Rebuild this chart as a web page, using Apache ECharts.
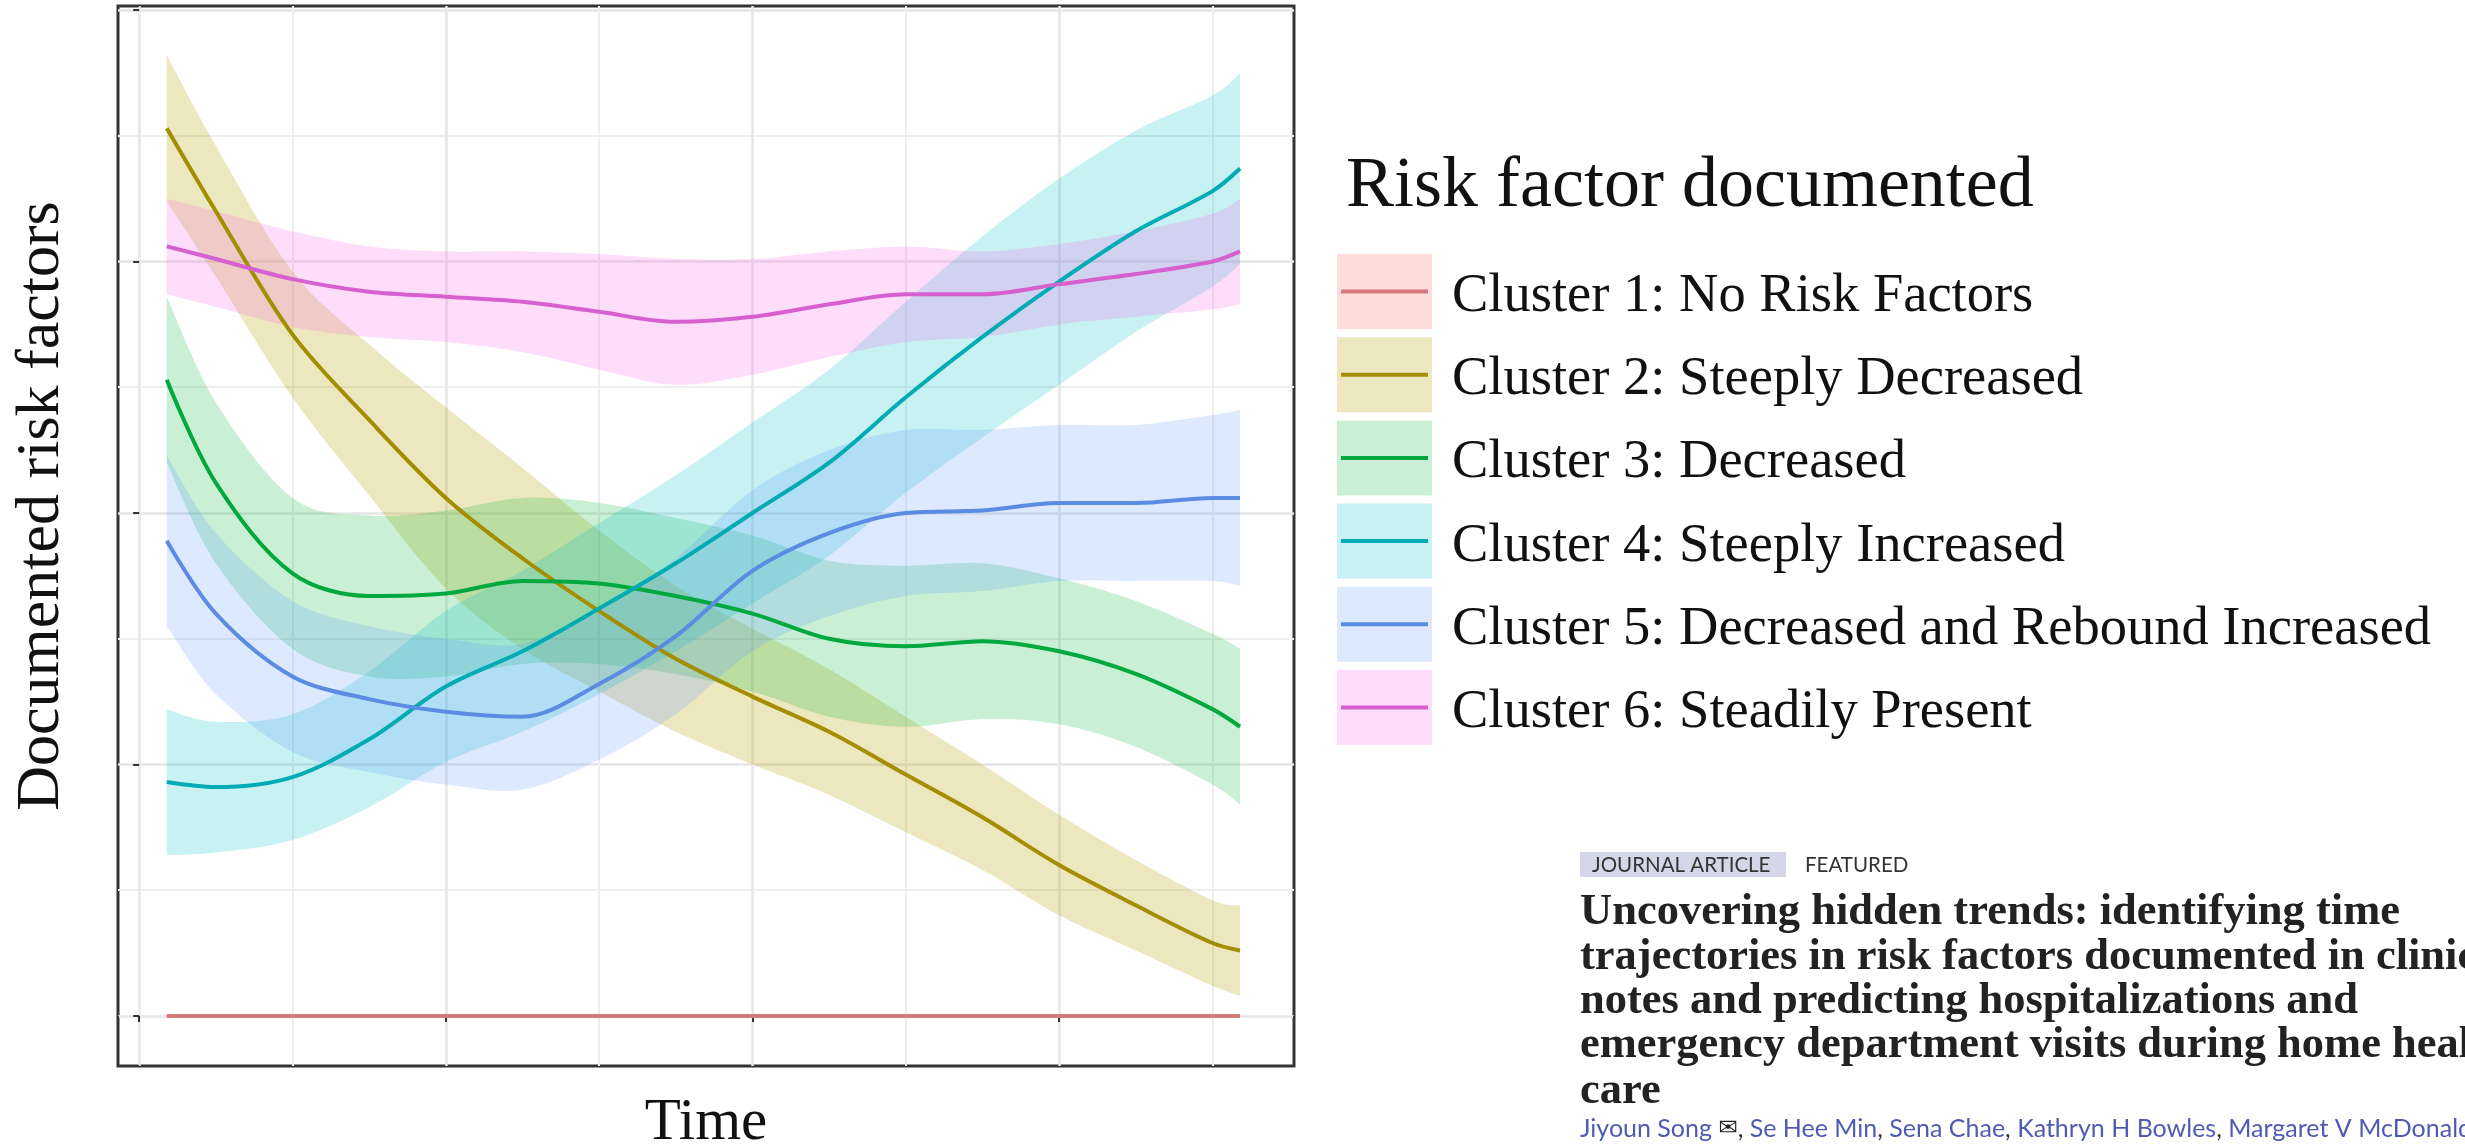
<!DOCTYPE html>
<html>
<head>
<meta charset="utf-8">
<script src="https://cdn.jsdelivr.net/npm/echarts@6/dist/echarts.min.js"></script>
<style>
  html, body { margin: 0; padding: 0; background: #fff; }
  #chart { width: 2465px; height: 1145px; }
</style>
</head>
<body>
<div id="chart"></div>
<script>
// time axis (no labels in the figure, arbitrary units)
const time = [0.09, 0.25, 0.5, 0.75, 1.0, 1.25, 1.5, 1.75, 2.0, 2.25, 2.5, 2.75, 3.0, 3.25, 3.5, 3.59];

const clusterNames = [
  'Cluster 1: No Risk Factors',
  'Cluster 2: Steeply Decreased',
  'Cluster 3: Decreased',
  'Cluster 4: Steeply Increased',
  'Cluster 5: Decreased and Rebound Increased',
  'Cluster 6: Steadily Present'
];

// smoothed trajectories (mean) and half width of the confidence band
const cluster1Mean = [0, 0, 0, 0, 0, 0, 0, 0, 0, 0, 0, 0, 0, 0, 0, 0];
const cluster1Ci   = [0, 0, 0, 0, 0, 0, 0, 0, 0, 0, 0, 0, 0, 0, 0, 0];
const cluster2Mean = [3.53, 3.2, 2.71, 2.37, 2.06, 1.82, 1.61, 1.42, 1.27, 1.13, 0.96, 0.79, 0.6, 0.44, 0.29, 0.26];
const cluster2Ci   = [0.29, 0.26, 0.25, 0.3, 0.36, 0.36, 0.32, 0.29, 0.27, 0.25, 0.23, 0.21, 0.2, 0.18, 0.17, 0.18];
const cluster3Mean = [2.53, 2.12, 1.76, 1.67, 1.68, 1.73, 1.72, 1.67, 1.6, 1.5, 1.47, 1.49, 1.45, 1.36, 1.22, 1.15];
const cluster3Ci   = [0.33, 0.32, 0.3, 0.32, 0.33, 0.33, 0.32, 0.31, 0.31, 0.31, 0.32, 0.31, 0.29, 0.29, 0.3, 0.31];
const cluster4Mean = [0.93, 0.91, 0.95, 1.1, 1.31, 1.45, 1.62, 1.8, 2.0, 2.2, 2.46, 2.7, 2.92, 3.12, 3.28, 3.37];
const cluster4Ci   = [0.29, 0.26, 0.25, 0.27, 0.3, 0.32, 0.34, 0.35, 0.36, 0.37, 0.38, 0.4, 0.41, 0.4, 0.38, 0.38];
const cluster5Mean = [1.89, 1.6, 1.35, 1.26, 1.21, 1.19, 1.32, 1.51, 1.77, 1.92, 2.0, 2.01, 2.04, 2.04, 2.06, 2.06];
const cluster5Ci   = [0.34, 0.32, 0.3, 0.29, 0.29, 0.29, 0.3, 0.31, 0.32, 0.33, 0.33, 0.32, 0.31, 0.31, 0.33, 0.35];
const cluster6Mean = [3.06, 3.01, 2.93, 2.88, 2.86, 2.84, 2.8, 2.76, 2.78, 2.83, 2.87, 2.87, 2.91, 2.95, 3.0, 3.04];
const cluster6Ci   = [0.19, 0.19, 0.19, 0.18, 0.18, 0.2, 0.23, 0.25, 0.23, 0.21, 0.19, 0.17, 0.16, 0.17, 0.19, 0.21];

const means = [cluster1Mean, cluster2Mean, cluster3Mean, cluster4Mean, cluster5Mean, cluster6Mean];
const cis = [cluster1Ci, cluster2Ci, cluster3Ci, cluster4Ci, cluster5Ci, cluster6Ci];

const lineColors = ['#D4787C', '#A38D00', '#00A83E', '#00ABB3', '#5B8BE2', '#D660CD'];
const fillColors = [
  'rgba(248,118,109,0.25)',
  'rgba(183,159,0,0.25)',
  'rgba(0,186,56,0.21)',
  'rgba(0,191,196,0.22)',
  'rgba(97,156,255,0.22)',
  'rgba(245,100,227,0.22)'
];

const serif = '"Liberation Serif", "Times New Roman", serif';

const chart = echarts.init(document.getElementById('chart'));

// catmull-rom through pixel points -> cubic bezier path segments
const curveThrough = (p) => {
  let s = '';
  for (let k = 0; k < p.length - 1; k++) {
    const p0 = p[Math.max(k - 1, 0)], p1 = p[k], p2 = p[k + 1], p3 = p[Math.min(k + 2, p.length - 1)];
    const c1 = [p1[0] + (p2[0] - p0[0]) / 6, p1[1] + (p2[1] - p0[1]) / 6];
    const c2 = [p2[0] - (p3[0] - p1[0]) / 6, p2[1] - (p3[1] - p1[1]) / 6];
    s += 'C' + c1.join(',') + ' ' + c2.join(',') + ' ' + p2.join(',');
  }
  return s;
};

const bandSeries = [1, 2, 3, 4, 5].map(i => ({
  type: 'custom',
  name: clusterNames[i] + ' band',
  silent: true,
  z: 1,
  data: [[time[0], means[i][0]]],
  encode: { x: 0, y: 1 },
  renderItem: (params, api) => {
    const up = time.map((t, k) => api.coord([t, means[i][k] + cis[i][k]]));
    const lo = time.map((t, k) => api.coord([t, means[i][k] - cis[i][k]])).reverse();
    const d = 'M' + up[0].join(',') + curveThrough(up) +
      'L' + lo[0].join(',') + curveThrough(lo) + 'Z';
    return { type: 'path', shape: { pathData: d }, style: { fill: fillColors[i] } };
  }
}));

const lineSeries = clusterNames.map((name, i) => ({
  name,
  type: 'line',
  z: 3,
  smooth: 0.33,
  symbol: 'none',
  showSymbol: false,
  color: lineColors[i],
  lineStyle: { color: lineColors[i], width: 4 },
  data: time.map((t, k) => [t, means[i][k]])
}));

const axisCommon = {
  type: 'value',
  splitNumber: 4,
  axisLine: { show: false },
  axisLabel: { show: false },
  axisTick: { show: true, inside: false, length: 6, lineStyle: { color: '#333', width: 2 } },
  splitLine: { show: true, showMinLine: false, showMaxLine: false, lineStyle: { color: '#E6E6E6', width: 2.5 } },
  minorTick: { show: false, splitNumber: 2 },
  minorSplitLine: { show: true, lineStyle: { color: '#EEEEEE', width: 2 } }
};

const titleFont = 'bold 44.5px "Liberation Serif"';
const legendBase = {
  orient: 'vertical',
  padding: 0,
  icon: 'rect',
  selectedMode: false,
  itemStyle: { borderWidth: 0 }
};

const option = {
  animation: false,
  backgroundColor: '#fff',
  title: {
    text: 'Risk factor documented',
    left: 1346,
    top: 151,
    padding: 0,
    textStyle: { fontFamily: serif, fontSize: 72, fontWeight: 'normal', color: '#111' }
  },
  legend: [
    // key backgrounds (ribbon colour)
    Object.assign({}, legendBase, {
      left: 1337, top: 254, itemWidth: 95, itemHeight: 75, itemGap: 8.2,
      textStyle: { fontFamily: serif, fontSize: 54.5, lineHeight: 60, color: 'rgba(0,0,0,0)' },
      data: clusterNames.map((n, i) => ({ name: n, itemStyle: { color: fillColors[i] } }))
    }),
    // key lines
    Object.assign({}, legendBase, {
      left: 1341, top: 249.9, itemWidth: 87, itemHeight: 4, itemGap: 0,
      textStyle: { fontFamily: serif, fontSize: 54.5, lineHeight: 83.2, color: 'rgba(0,0,0,0)' },
      data: clusterNames.map((n, i) => ({ name: n, itemStyle: { color: lineColors[i] } }))
    }),
    // labels
    Object.assign({}, legendBase, {
      left: 1337, top: 255, itemWidth: 110, itemHeight: 4, itemGap: 0,
      textStyle: { fontFamily: serif, fontSize: 54.5, lineHeight: 83.2, color: '#111' },
      data: clusterNames.map(n => ({ name: n, itemStyle: { color: 'rgba(0,0,0,0)' } }))
    })
  ],
  grid: {
    left: 118,
    top: 6,
    width: 1176,
    height: 1060,
    show: true,
    borderColor: '#333',
    borderWidth: 3,
    backgroundColor: 'transparent',
    containLabel: false,
    outerBoundsMode: 'none'
  },
  xAxis: Object.assign({}, axisCommon, {
    min: -0.069,
    max: 3.766,
    name: 'Time',
    nameLocation: 'middle',
    nameGap: 28,
    nameMoveOverlap: false,
    nameTextStyle: { fontFamily: serif, fontSize: 59, color: '#111' }
  }),
  yAxis: Object.assign({}, axisCommon, {
    min: -0.199,
    max: 4.016,
    name: 'Documented risk factors',
    nameLocation: 'middle',
    nameGap: 45,
    nameMoveOverlap: false,
    nameTextStyle: { fontFamily: serif, fontSize: 62, color: '#111', padding: [0, 0, 0, 60] }
  }),
  graphic: [
    { type: 'rect', left: 1580, top: 852, shape: { width: 206, height: 25 }, style: { fill: '#D6D6EA' } },
    { type: 'text', x: 1592, y: 865, style: { text: 'JOURNAL ARTICLE', fill: '#333', font: '20.5px Lato', verticalAlign: 'middle' } },
    { type: 'text', x: 1805, y: 865, style: { text: 'FEATURED', fill: '#333', font: '20.5px Lato', verticalAlign: 'middle' } },
    { type: 'text', x: 1580, y: 912, style: { text: 'Uncovering hidden trends: identifying time', fill: '#222', font: titleFont, verticalAlign: 'middle' } },
    { type: 'text', x: 1580, y: 957, style: { text: 'trajectories in risk factors documented in clinical', fill: '#222', font: titleFont, verticalAlign: 'middle' } },
    { type: 'text', x: 1580, y: 1001, style: { text: 'notes and predicting hospitalizations and', fill: '#222', font: titleFont, verticalAlign: 'middle' } },
    { type: 'text', x: 1580, y: 1045, style: { text: 'emergency department visits during home health', fill: '#222', font: titleFont, verticalAlign: 'middle' } },
    { type: 'text', x: 1580, y: 1091, style: { text: 'care', fill: '#222', font: titleFont, verticalAlign: 'middle' } },
    {
      type: 'text', x: 1580, y: 1129,
      style: {
        text: '{a|Jiyoun Song} {e|✉}{c|, }{a|Se Hee Min}{c|, }{a|Sena Chae}{c|, }{a|Kathryn H Bowles}{c|, }{a|Margaret V McDonald}',
        verticalAlign: 'middle',
        font: '25px Lato',
        rich: {
          a: { fill: '#4E5BB5', font: '25px Lato' },
          c: { fill: '#333', font: '25px Lato' },
          e: { fill: '#222', font: '23px "DejaVu Sans"' }
        }
      }
    }
  ],
  series: [...bandSeries, ...lineSeries]
};

chart.setOption(option);
window.addEventListener('resize', () => chart.resize());
</script>
</body>
</html>
